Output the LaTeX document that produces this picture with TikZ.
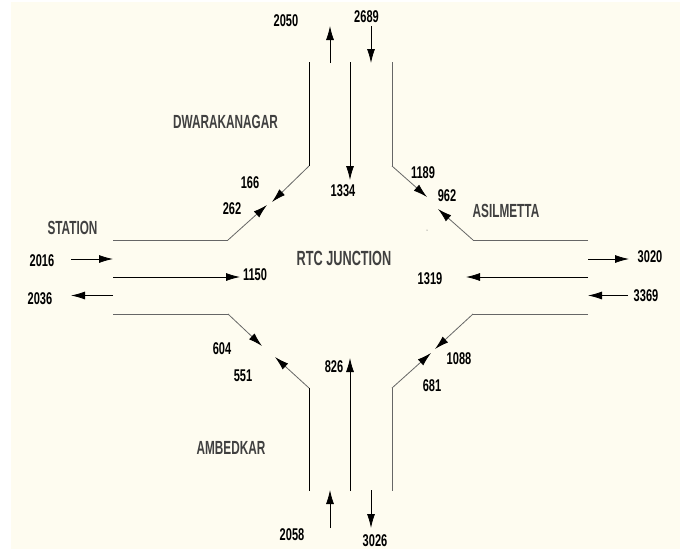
\documentclass[tikz,border=0pt]{standalone}
\usepackage{fontspec}
\setmainfont{Liberation Sans}
\newfontfamily\countfont[FakeStretch=0.65]{Liberation Sans}
\newfontfamily\placefont[FakeStretch=0.62]{Liberation Sans}
\usetikzlibrary{arrows.meta}
\definecolor{paper}{HTML}{FEFCF0}
\tikzset{
	flow/.style={draw=black, line width=0.8pt, -{Latex[length=14pt,width=8pt]}},
	turn/.style={draw=black!60, line width=0.8pt, -{Latex[length=14pt,width=8pt,black]}},
	road/.style={draw=black!60, line width=1pt},
	count/.style={font=\countfont\bfseries\fontsize{17}{17}\selectfont, inner sep=0pt},
	place/.style={font=\placefont\bfseries\fontsize{19}{19}\selectfont, text=black!75, inner sep=0pt},
}
\begin{document}
\begin{tikzpicture}[x=1pt,y=-1pt]
	\useasboundingbox (0,0) rectangle (680,550);
	\fill[paper] (11,2) rectangle (680,549);

	% road edges
	\draw[road,draw=black,line width=0.8pt] (309,62) -- (309,166);
	\draw[road] (392,62) -- (392,166);
	\draw[road] (113,240) -- (228,240);
	\draw[road] (588,240) -- (473,240);
	\draw[road] (113,314) -- (228,314);
	\draw[road] (588,314) -- (473,314);
	\draw[road,draw=black,line width=0.8pt] (309,388) -- (309,491);
	\draw[road] (392,388) -- (392,491);

	% turning arrows
	\draw[turn] (228,240) -- (267,205);
	\draw[turn] (309,166) -- (272,202);
	\draw[turn] (392,166) -- (427,197);
	\draw[turn] (473,240) -- (438,209);
	\draw[turn] (473,314) -- (435,349);
	\draw[turn] (392,388) -- (431,353);
	\draw[turn] (228,314) -- (262,346);
	\draw[turn] (309,388) -- (275,357);

	% through arrows
	\draw[flow] (350,62) -- (350,180);
	\draw[flow] (350,491) -- (350,358);
	\draw[flow] (113,277) -- (240,277);
	\draw[flow] (588,277) -- (466,277);

	% entry and exit arrows
	\draw[flow] (330,63) -- (330,26);
	\draw[flow] (371,26) -- (371,63);
	\draw[flow] (330,528) -- (330,490);
	\draw[flow] (371,490) -- (371,528);
	\draw[flow] (71,259) -- (113,259);
	\draw[flow] (113,295.5) -- (71,295.5);
	\draw[flow] (588,259) -- (629,259);
	\draw[flow] (628,295.5) -- (588,295.5);

	\fill[black!70] (427,230) circle (0.5);

	\node[place] (dwarakanagar) at (225.5,122) {DWARAKANAGAR};
	\node[place] (asilmetta) at (506,211) {ASILMETTA};
	\node[place] (station) at (72.5,228) {STATION};
	\node[place] (ambedkar) at (231,448) {AMBEDKAR};
	\node[place,font=\placefont\bfseries\fontsize{20.5}{20}\selectfont] (rtc) at (344,258) {RTC JUNCTION};

	\node[count] (n2050) at (286,21) {2050};
	\node[count] (n2689) at (366.5,17) {2689};
	\node[count] (n166) at (250,183) {166};
	\node[count] (n262) at (232,209) {262};
	\node[count] (n1334) at (343,191) {1334};
	\node[count] (n1189) at (423,173) {1189};
	\node[count] (n962) at (447,196) {962};
	\node[count] (n2016) at (42,261) {2016};
	\node[count] (n2036) at (40,299) {2036};
	\node[count] (n1150) at (255,275) {1150};
	\node[count] (n1319) at (430,279) {1319};
	\node[count] (n3020) at (650,257) {3020};
	\node[count] (n3369) at (646,296) {3369};
	\node[count] (n604) at (222,349) {604};
	\node[count] (n551) at (243,376) {551};
	\node[count] (n826) at (334,367) {826};
	\node[count] (n1088) at (459,359) {1088};
	\node[count] (n681) at (432,386) {681};
	\node[count] (n2058) at (292,535) {2058};
	\node[count] (n3026) at (375,541) {3026};
\end{tikzpicture}
\end{document}
